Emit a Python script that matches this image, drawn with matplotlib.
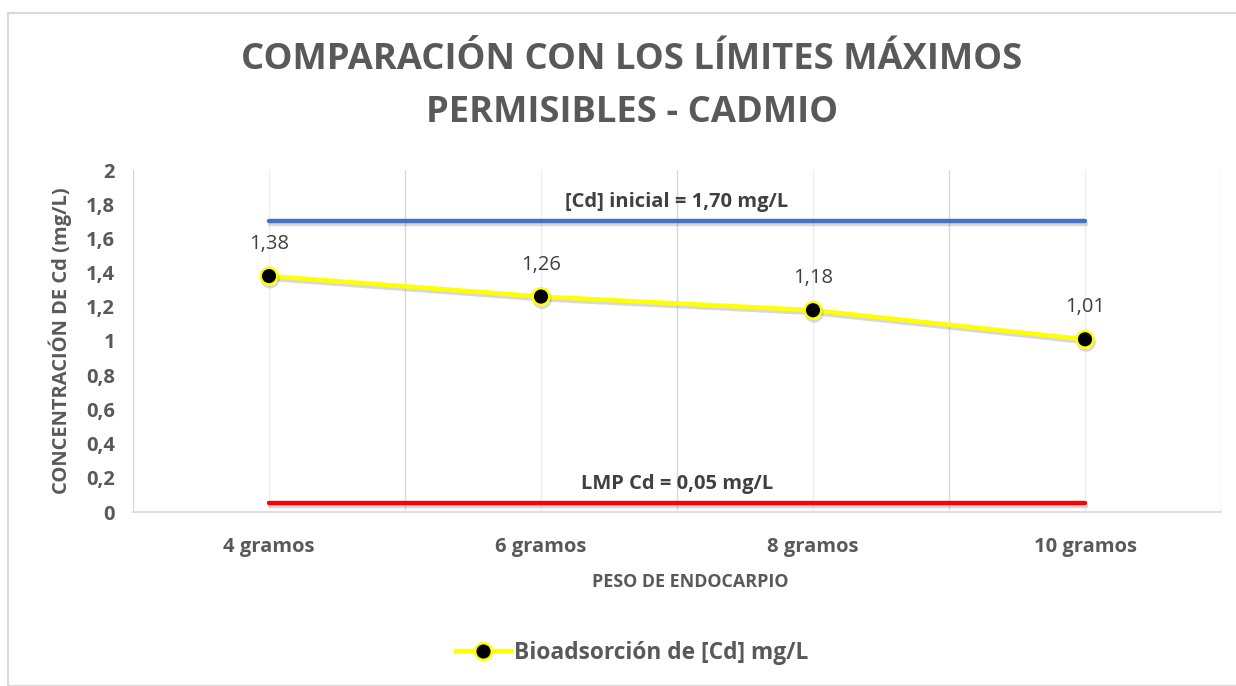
import matplotlib
matplotlib.use("Agg")
import matplotlib.pyplot as plt
import matplotlib.patheffects as pe
from matplotlib.patches import Rectangle
from matplotlib.lines import Line2D

categories = ["4 gramos", "6 gramos", "8 gramos", "10 gramos"]
bioadsorcion = [1.38, 1.26, 1.18, 1.01]
value_labels = ["1,38", "1,26", "1,18", "1,01"]
cd_inicial = [1.70, 1.70, 1.70, 1.70]
lmp_cd = [0.05, 0.05, 0.05, 0.05]
y_ticks = [0, 0.2, 0.4, 0.6, 0.8, 1.0, 1.2, 1.4, 1.6, 1.8, 2.0]
y_tick_labels = ["0", "0,2", "0,4", "0,6", "0,8", "1", "1,2", "1,4", "1,6", "1,8", "2"]

FONT = ["Open Sans", "DejaVu Sans"]
plt.rcParams["font.family"] = FONT
GRAY = "#595959"

W, H = 1236, 686
fig = plt.figure(figsize=(W / 100, H / 100), dpi=100)
fig.patch.set_facecolor("white")

# outer chart border
fig.patches.append(Rectangle((8 / W, 0), 1.2, (H - 13) / H, transform=fig.transFigure,
                             fill=False, edgecolor="#d9d9d9", linewidth=1.5))

ax = fig.add_axes([133 / W, (H - 512) / H, (1221 - 133) / W, (512 - 170) / H])
x = list(range(len(categories)))
ax.set_xlim(-0.5, len(categories) - 0.5)
ax.set_ylim(0, 2)

for s in ["top", "left", "right"]:
    ax.spines[s].set_visible(False)
ax.spines["bottom"].set_color("#d9d9d9")
ax.spines["bottom"].set_linewidth(1.2)

# vertical gridlines
for b in [i - 0.5 for i in range(len(categories) + 1)]:
    ax.axvline(b, color="#d9d9d9", lw=1.0, zorder=0)
for c in x:
    ax.axvline(c, color="#efefef", lw=1.0, zorder=0)

shadow = [pe.SimpleLineShadow(offset=(0.8, -2.0), shadow_color="#808080", alpha=0.3),
          pe.Normal()]

ax.plot(x, cd_inicial, color="#4472C4", lw=3.2, solid_capstyle="round", path_effects=shadow, zorder=3)
ax.plot(x, lmp_cd, color="#FF0000", lw=3.2, solid_capstyle="round", path_effects=shadow, zorder=3)
ax.plot(x, bioadsorcion, color="#FFFF00", lw=3.2, marker="o", markersize=12,
        markerfacecolor="black", markeredgecolor="#FFFF00", markeredgewidth=1.8,
        path_effects=shadow, zorder=4)

for xi, yi, lab in zip(x, bioadsorcion, value_labels):
    ax.annotate(lab, (xi, yi), xytext=(0, 23), textcoords="offset points",
                ha="center", va="center", fontsize=14.5, color="#404040")

ax.text(1.5, 1.815, "[Cd] inicial = 1,70 mg/L", ha="center", va="center",
        fontsize=14.5, fontweight="bold", color="#404040")
ax.text(1.5, 0.165, "LMP Cd = 0,05 mg/L", ha="center", va="center",
        fontsize=14.5, fontweight="bold", color="#404040")

ax.set_xticks(x)
ax.set_xticklabels(categories, fontsize=14.5, fontweight="bold", color=GRAY)
ax.set_yticks(y_ticks)
ax.set_yticklabels(y_tick_labels, fontsize=14.5, fontweight="bold", color=GRAY)
ax.tick_params(axis="both", length=0)
ax.tick_params(axis="x", pad=18)
ax.tick_params(axis="y", pad=13)

fig.text(690 / W, 1 - 582 / H, "PESO DE ENDOCARPIO", ha="center", va="center",
         fontsize=12.9, fontweight="bold", color=GRAY)
fig.text(60 / W, 1 - 341 / H, "CONCENTRACIÓN DE Cd (mg/L)", ha="center", va="center",
         rotation=90, fontsize=14.5, fontweight="bold", color=GRAY)

fig.text(632 / W, 1 - 60 / H, "COMPARACIÓN CON LOS LÍMITES MÁXIMOS", ha="center", va="center",
         fontsize=26.2, fontweight="bold", color=GRAY)
fig.text(632 / W, 1 - 113 / H, "PERMISIBLES - CADMIO", ha="center", va="center",
         fontsize=26.2, fontweight="bold", color=GRAY)

# legend
leg_handle = Line2D([0], [0], color="#FFFF00", lw=3.2, marker="o", markersize=12,
                    markerfacecolor="black", markeredgecolor="#FFFF00", markeredgewidth=1.8)
fig.legend([leg_handle], ["Bioadsorción de [Cd] mg/L"], loc="center",
           bbox_to_anchor=(632 / W, 1 - 653 / H), frameon=False,
           prop={"family": FONT, "weight": "bold", "size": 16.4},
           labelcolor=GRAY, handlelength=2.4, handletextpad=0.15)

fig.savefig("out.png", dpi=100, facecolor="white")
